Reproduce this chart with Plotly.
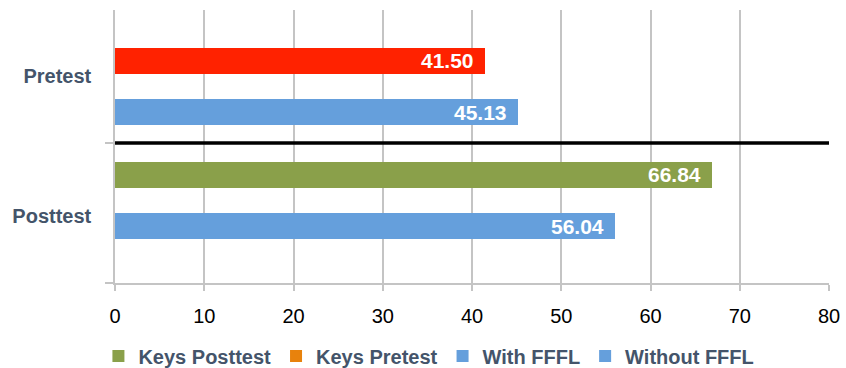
import plotly.graph_objects as go

# Scores by test phase and group
categories = ["Posttest", "Pretest"]
series_names = ["Keys Posttest", "Keys Pretest", "With FFFL", "Without FFFL"]
keys_posttest = [66.84]
keys_pretest = [41.50]
with_fffl = [45.13]
without_fffl = [56.04]
x_ticks = [0, 10, 20, 30, 40, 50, 60, 70, 80]

# Vertical slot of each bar on a 0..2 category band scale
slot_keys_post = [0.773]
slot_keys_pre = [1.589]
slot_with = [1.220]
slot_without = [0.404]
category_centers = [0.478, 1.478]
bar_h = 0.186

GREEN = "#8AA04A"
RED = "#FF2200"
ORANGE = "#E8820C"
BLUE = "#659FDC"
TEXT = "#44546A"
GRID = "#C4C4C4"
FONT = "Liberation Sans"

fig = go.Figure()
fig.add_trace(go.Bar(x=keys_posttest, y=slot_keys_post, orientation="h", width=bar_h,
                     name=series_names[0], marker=dict(color=GREEN, line_width=0)))
fig.add_trace(go.Bar(x=keys_pretest, y=slot_keys_pre, orientation="h", width=bar_h,
                     name=series_names[1], legendgroup="kp", showlegend=False,
                     marker=dict(color=RED, line_width=0)))
# legend swatch for the Keys Pretest series
fig.add_trace(go.Bar(x=[None], y=[None], orientation="h", name=series_names[1],
                     legendgroup="kp", marker=dict(color=ORANGE, line_width=0)))
fig.add_trace(go.Bar(x=with_fffl, y=slot_with, orientation="h", width=bar_h,
                     name=series_names[2], marker=dict(color=BLUE, line_width=0)))
fig.add_trace(go.Bar(x=without_fffl, y=slot_without, orientation="h", width=bar_h,
                     name=series_names[3], marker=dict(color=BLUE, line_width=0)))

# value labels at the inside end of each bar
for vals, slots in [(keys_posttest, slot_keys_post), (keys_pretest, slot_keys_pre),
                    (with_fffl, slot_with), (without_fffl, slot_without)]:
    for v, s in zip(vals, slots):
        fig.add_annotation(x=v, y=s, text=f"{v:.2f}", showarrow=False,
                           xanchor="right", yanchor="middle", xshift=-9,
                           font=dict(family=FONT, size=21, color="white", weight="bold"))

# separator between the two phases
fig.add_shape(type="line", x0=0, x1=80, y0=1, y1=1, xref="x", yref="y",
              line=dict(color="black", width=3.5))

fig.update_layout(
    width=846, height=368,
    margin=dict(l=115, r=17, t=10, b=85, autoexpand=False),
    paper_bgcolor="white", plot_bgcolor="white",
    barmode="overlay",
    bargap=0,
    font=dict(family=FONT),
    legend=dict(orientation="h", x=0.507, xanchor="center", xref="container",
                y=12 / 368, yanchor="middle", yref="container",
                font=dict(family=FONT, size=20, color=TEXT, weight="bold"),
                itemwidth=30, traceorder="normal"),
    xaxis=dict(range=[0, 80], tickvals=x_ticks, showgrid=True, gridcolor=GRID,
               gridwidth=1.5, zeroline=False, showline=True, linecolor=GRID,
               linewidth=1.5, ticks="outside", ticklen=6, tickcolor=GRID,
               tickwidth=1.5, ticklabelstandoff=8,
               tickfont=dict(family=FONT, size=20, color="black"),
               automargin=False, fixedrange=True),
    yaxis=dict(range=[0, 1.95], tickvals=category_centers, ticktext=categories,
               ticks="", showgrid=False, zeroline=False, showline=True,
               linecolor=GRID, linewidth=1.5, ticklabelstandoff=18,
               tickfont=dict(family=FONT, size=20, color=TEXT, weight="bold"),
               minor=dict(tickvals=[0, 1], ticks="outside", ticklen=8,
                          tickcolor=GRID, tickwidth=1.5, showgrid=False),
               automargin=False, fixedrange=True),
)

fig.write_html("out.html")
